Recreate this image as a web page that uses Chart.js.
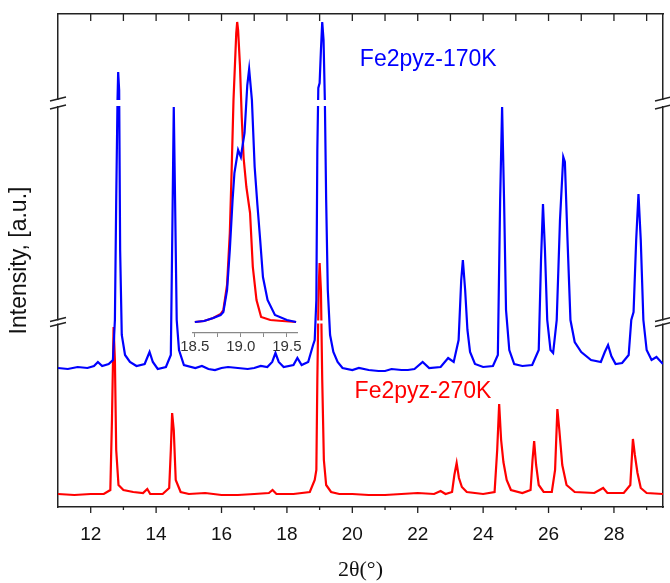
<!DOCTYPE html>
<html>
<head>
<meta charset="utf-8">
<script src="https://cdn.jsdelivr.net/npm/chart.js@4.4.1/dist/chart.umd.min.js"></script>
<style>
  html, body { margin: 0; padding: 0; background: #fff; }
  #wrap { position: relative; width: 670px; height: 583px; }
  #grafico { position: absolute; left: 0; top: 0; }
  #detalhe { position: absolute; left: 170px; top: 0; }
</style>
</head>
<body>
<div id="wrap">
  <canvas id="grafico" width="670" height="583"></canvas>
  <canvas id="detalhe" width="150" height="370"></canvas>
</div>
<script>
// 2theta (deg) / intensity (a.u., as plotted with the broken axis)
const x170 = [11.0, 11.3, 11.6, 11.9, 12.1, 12.22, 12.35, 12.55, 12.68, 12.74, 12.78, 12.82, 12.84, 12.87, 12.9, 12.95, 13.05, 13.2, 13.4, 13.65, 13.8, 13.9, 14.05, 14.3, 14.45, 14.5, 14.54, 14.58, 14.63, 14.7, 14.85, 15.2, 15.4, 15.6, 15.8, 16.0, 16.2, 16.5, 16.8, 17.0, 17.2, 17.4, 17.55, 17.65, 17.75, 17.9, 18.2, 18.32, 18.45, 18.65, 18.8, 18.85, 18.9, 18.93, 18.96, 19.0, 19.04, 19.08, 19.12, 19.16, 19.2, 19.25, 19.32, 19.42, 19.55, 19.7, 20.0, 20.2, 20.5, 20.8, 21.0, 21.2, 21.5, 21.7, 21.9, 22.15, 22.35, 22.7, 22.93, 23.1, 23.25, 23.33, 23.38, 23.45, 23.52, 23.6, 23.75, 24.0, 24.3, 24.45, 24.52, 24.58, 24.64, 24.7, 24.8, 24.95, 25.2, 25.5, 25.7, 25.77, 25.83, 25.89, 25.96, 26.06, 26.14, 26.25, 26.35, 26.45, 26.5, 26.58, 26.67, 26.8, 27.0, 27.3, 27.6, 27.72, 27.82, 27.92, 28.05, 28.25, 28.45, 28.53, 28.6, 28.68, 28.75, 28.82, 28.9, 29.0, 29.15, 29.3, 29.5];
const y170 = [139, 138, 140, 139, 141, 145, 141, 143, 147, 187, 307, 407, 435, 417, 257, 172, 152, 145, 141, 143, 155, 145, 138, 140, 152, 287, 400, 307, 187, 157, 142, 139, 141, 138, 137, 139, 140, 139, 138, 139, 141, 140, 145, 154, 145, 140, 142, 149, 142, 145, 162, 167, 207, 357, 419, 424, 457, 485, 467, 407, 307, 217, 172, 155, 145, 139, 137, 139, 137, 136, 136, 138, 137, 137, 138, 145, 139, 140, 149, 145, 167, 227, 247, 217, 177, 155, 143, 140, 141, 152, 307, 400, 307, 197, 157, 143, 141, 142, 157, 247, 303, 257, 187, 157, 154, 187, 287, 350, 345, 267, 187, 165, 155, 147, 145, 155, 162, 151, 143, 144, 152, 187, 195, 267, 313, 267, 187, 157, 147, 150, 143];

const x270 = [11.0, 11.5, 12.0, 12.4, 12.6, 12.65, 12.7, 12.74, 12.78, 12.85, 13.0, 13.3, 13.6, 13.73, 13.82, 14.2, 14.4, 14.45, 14.49, 14.54, 14.6, 14.75, 15.0, 15.5, 16.0, 16.5, 17.0, 17.45, 17.56, 17.68, 18.2, 18.7, 18.85, 18.9, 18.93, 18.97, 19.0, 19.04, 19.08, 19.13, 19.2, 19.35, 19.6, 20.0, 20.5, 21.0, 21.5, 22.0, 22.5, 22.7, 22.85, 23.05, 23.12, 23.19, 23.26, 23.35, 23.5, 24.0, 24.35, 24.43, 24.49, 24.55, 24.62, 24.72, 24.85, 25.2, 25.45, 25.51, 25.56, 25.62, 25.7, 25.85, 26.1, 26.2, 26.27, 26.33, 26.42, 26.55, 26.8, 27.4, 27.67, 27.8, 28.3, 28.5, 28.58, 28.64, 28.72, 28.82, 29.0, 29.5];
const y270 = [13, 12, 13, 13, 17, 87, 180, 147, 57, 22, 17, 15, 14, 18, 13, 13, 19, 57, 94, 77, 27, 15, 13, 14, 12, 12, 13, 14, 17, 13, 13, 15, 27, 37, 127, 217, 244, 217, 127, 47, 22, 15, 13, 13, 12, 12, 13, 14, 13, 16, 13, 15, 32, 44, 29, 20, 15, 13, 15, 57, 103, 67, 45, 27, 17, 14, 17, 47, 66, 42, 22, 15, 15, 37, 98, 77, 42, 22, 15, 14, 19, 14, 14, 22, 68, 52, 34, 19, 14, 13];

// inset: zoom on the 19 deg reflection
const xInset170 = [18.5, 18.6, 18.7, 18.78, 18.81, 18.85, 18.88, 18.91, 18.93, 18.97, 19.0, 19.04, 19.07, 19.09, 19.12, 19.15, 19.18, 19.21, 19.24, 19.29, 19.37, 19.5, 19.6];
const yInset170 = [11, 12, 15, 18, 21, 43, 83, 133, 160, 183, 176, 200, 248, 264, 233, 166, 128, 93, 56, 33, 18, 13, 11];
const xInset270 = [18.5, 18.6, 18.7, 18.78, 18.81, 18.85, 18.88, 18.9, 18.92, 18.95, 18.96, 18.97, 18.99, 19.01, 19.03, 19.06, 19.1, 19.13, 19.17, 19.22, 19.32, 19.45, 19.6];
const yInset270 = [11, 12, 15, 19, 23, 48, 100, 163, 233, 300, 311, 303, 268, 215, 175, 146, 120, 66, 33, 16, 13, 12, 11];

const xTickLabels = [12, 14, 16, 18, 20, 22, 24, 26, 28];
const insetTickLabels = [18.5, 19.0, 19.5];

// where the intensity axis is broken (value), and which curve gets the cut
const quebras = [
  { serie: 0, valor: 404, gap: 6 },
  { serie: 1, valor: 185, gap: 3 }
];

const rotulos = [
  { texto: 'Fe2pyz-170K', x: 20.23, y: 441, cor: '#0000ff' },
  { texto: 'Fe2pyz-270K', x: 20.07, y: 109, cor: '#ff0000' }
];

const pontos = (xs, ys) => xs.map((x, i) => ({ x, y: ys[i] }));
const sans = 'Arial, "Liberation Sans", sans-serif';

const pluginQuebras = {
  id: 'quebras',
  afterDatasetDraw(chart, args) {
    const q = quebras.find(b => b.serie === args.index);
    if (!q) return;
    const { ctx, chartArea: a } = chart;
    const py = chart.scales.y.getPixelForValue(q.valor);
    ctx.save();
    ctx.fillStyle = '#fff';
    ctx.fillRect(a.left - 3, py - q.gap / 2, a.right - a.left + 6, q.gap);
    ctx.restore();
  },
  afterDraw(chart) {
    const { ctx, chartArea: a } = chart;
    const x = chart.scales.x;
    const y = chart.scales.y;
    ctx.save();
    ctx.strokeStyle = '#222';
    ctx.lineWidth = 1.3;
    ctx.beginPath();
    x.ticks.forEach(t => {
      const px = x.getPixelForValue(t.value);
      if (px <= a.left + 1) return;
      const major = t.value % 2 === 0;
      ctx.moveTo(px, a.bottom);
      ctx.lineTo(px, a.bottom + (major ? 6 : 3));
      ctx.moveTo(px, a.top);
      ctx.lineTo(px, a.top + 7);
    });
    quebras.forEach(q => {
      const py = y.getPixelForValue(q.valor);
      [a.left, a.right].forEach(sx => {
        [-1, 1].forEach(s => {
          const yy = py + s * (q.gap / 2 + 1);
          ctx.moveTo(sx - 8, yy + 2);
          ctx.lineTo(sx + 8, yy - 2);
        });
      });
    });
    ctx.stroke();

    ctx.font = '23px ' + sans;
    ctx.textBaseline = 'alphabetic';
    rotulos.forEach(r => {
      ctx.fillStyle = r.cor;
      ctx.fillText(r.texto, x.getPixelForValue(r.x), y.getPixelForValue(r.y));
    });
    ctx.restore();
  }
};

new Chart(document.getElementById('grafico'), {
  type: 'line',
  data: {
    datasets: [{
      label: 'Fe2pyz-170K',
      data: pontos(x170, y170),
      borderColor: '#0000ff',
      borderWidth: 2.2,
      pointRadius: 0,
      tension: 0
    }, {
      label: 'Fe2pyz-270K',
      data: pontos(x270, y270),
      borderColor: '#ff0000',
      borderWidth: 2.2,
      pointRadius: 0,
      tension: 0
    }]
  },
  options: {
    responsive: false,
    animation: false,
    devicePixelRatio: 1,
    layout: { padding: 0 },
    plugins: { legend: { display: false }, tooltip: { enabled: false } },
    scales: {
      x: {
        type: 'linear',
        position: 'bottom',
        min: 11,
        max: 29.5,
        grid: { display: false, drawTicks: false },
        border: { display: true, color: '#222', width: 1.5 },
        ticks: {
          stepSize: 1,
          includeBounds: false,
          autoSkip: false,
          maxRotation: 0,
          padding: 16,
          color: '#111',
          font: { family: sans, size: 19 },
          callback: v => xTickLabels.includes(v) ? String(v) : ''
        },
        title: {
          display: true,
          text: '2θ(°)',
          color: '#111',
          padding: 0,
          font: { family: '"Times New Roman", "Liberation Serif", serif', size: 22 }
        },
        afterFit: s => { s.height = 76; }
      },
      x2: {
        type: 'linear',
        position: 'top',
        min: 11,
        max: 29.5,
        grid: { display: false, drawTicks: false },
        border: { display: true, color: '#222', width: 1.5 },
        ticks: { display: false },
        afterFit: s => { s.height = 14; }
      },
      y: {
        min: 0,
        max: 493,
        grid: { display: false, drawTicks: false },
        border: { display: true, color: '#222', width: 1.5 },
        ticks: { display: false },
        title: {
          display: true,
          text: 'Intensity, [a.u.]',
          color: '#111',
          padding: { top: 6, bottom: 0 },
          font: { family: sans, size: 23 }
        },
        afterFit: s => { s.width = 58; }
      },
      y2: {
        position: 'right',
        min: 0,
        max: 493,
        grid: { display: false, drawTicks: false },
        border: { display: true, color: '#222', width: 1.5 },
        ticks: { display: false },
        afterFit: s => { s.width = 7; }
      }
    }
  },
  plugins: [pluginQuebras]
});

new Chart(document.getElementById('detalhe'), {
  type: 'line',
  data: {
    datasets: [{
      data: pontos(xInset170, yInset170),
      borderColor: '#0000ff',
      borderWidth: 2.2,
      pointRadius: 0,
      tension: 0
    }, {
      data: pontos(xInset270, yInset270),
      borderColor: '#ff0000',
      borderWidth: 2.2,
      pointRadius: 0,
      tension: 0
    }]
  },
  options: {
    responsive: false,
    animation: false,
    devicePixelRatio: 1,
    layout: { padding: { left: 23, right: 23, top: 14, bottom: 0 } },
    plugins: { legend: { display: false }, tooltip: { enabled: false } },
    scales: {
      x: {
        type: 'linear',
        min: 18.48,
        max: 19.61,
        grid: { display: true, drawOnChartArea: false, drawTicks: true, tickLength: 4, color: '#888' },
        border: { display: true, color: '#888', width: 1.2 },
        ticks: {
          stepSize: 0.25,
          includeBounds: false,
          autoSkip: false,
          maxRotation: 0,
          padding: 1,
          color: '#333',
          font: { family: sans, size: 15 },
          callback: v => insetTickLabels.some(l => Math.abs(l - v) < 1e-6) ? v.toFixed(1) : ''
        },
        afterFit: s => { s.height = 37; }
      },
      y: { display: false, min: 0, max: 319 }
    }
  }
});
</script>
</body>
</html>
